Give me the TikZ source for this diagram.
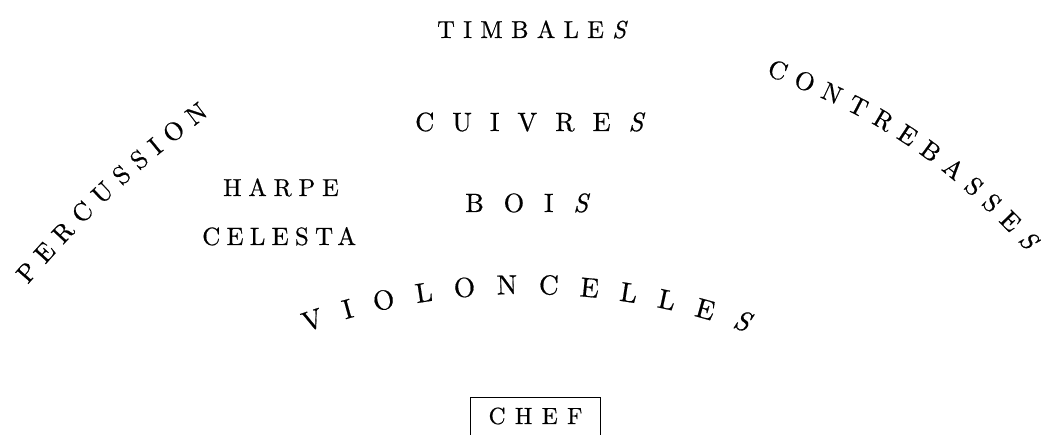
\documentclass[tikz,border=0pt]{standalone}
\usepackage{fontspec}
\setmainfont{lmroman10-regular.otf}[FakeBold=0.6, ItalicFont=lmroman10-italic.otf, ItalicFeatures={FakeBold=0.6}]
\usetikzlibrary{decorations.text}
% letter-spaced word
\newcommand\spread[2]{{\addfontfeature{LetterSpace=#1}#2}}
% same, with a final italic S
\newcommand\spreadS[2]{\spread{#1}{#2}\kern\dimexpr#1\fontdimen6\font/100\relax\textit{S}}

\begin{document}
\begin{tikzpicture}[x=1pt, y=1pt,
    word/.style={inner sep=0pt, anchor=base west},
    curved/.style={decorate, decoration={text along path, text align={fit to path}, text={#1}}}]
    \useasboundingbox (0,0) rectangle (1041,435);
    % middle of the stage
    \node[word, font=\fontsize{24.5}{29}\selectfont] (timbales) at (437,397) {\spreadS{34}{TIMBALE}};
    \node[word, font=\fontsize{26.4}{31}\selectfont] (cuivres) at (415,304) {\spreadS{68}{CUIVRE}};
    \node[word, font=\fontsize{26.4}{31}\selectfont] (bois) at (465,223) {\spreadS{75}{BOI}};
    \node[word, font=\fontsize{24.5}{29}\selectfont] (harpe) at (223,239) {\spread{28}{HARPE}};
    \node[word, font=\fontsize{25}{30}\selectfont] (celesta) at (202,190) {\spread{25}{CELESTA}};
    % curved rows
    \coordinate (perc-a) at (27.8,150.4);
    \coordinate (perc-b) at (209.2,320.1);
    \path[curved={|\fontsize{25.5}{30}\selectfont|PERCUSSION}] (perc-a) to[bend left=6] (perc-b);
    \coordinate (cb-a) at (766,360);
    \coordinate (cb-b) at (1027,184);
    \path[curved={|\fontsize{25.5}{30}\selectfont|CONTREBASSE|\fontsize{25.5}{30}\selectfont\itshape|S}] (cb-a) to[bend left=13] (cb-b);
    \coordinate (vc-c) at (526,-516);
    \path[curved={|\fontsize{27.5}{32}\selectfont|VIOLONCELLE|\fontsize{27.5}{32}\selectfont\itshape|S}] (vc-c) ++(109.6:657) arc[start angle=109.6, end angle=70.4, radius=657];
    % conductor
    \node[draw, line width=1pt, font=\fontsize{23.4}{28}\selectfont, inner xsep=18.2pt, inner ysep=10pt, text depth=25pt, anchor=base] (chef) at (535.5,11) {\spread{40}{CHEF}};
\end{tikzpicture}
\end{document}
